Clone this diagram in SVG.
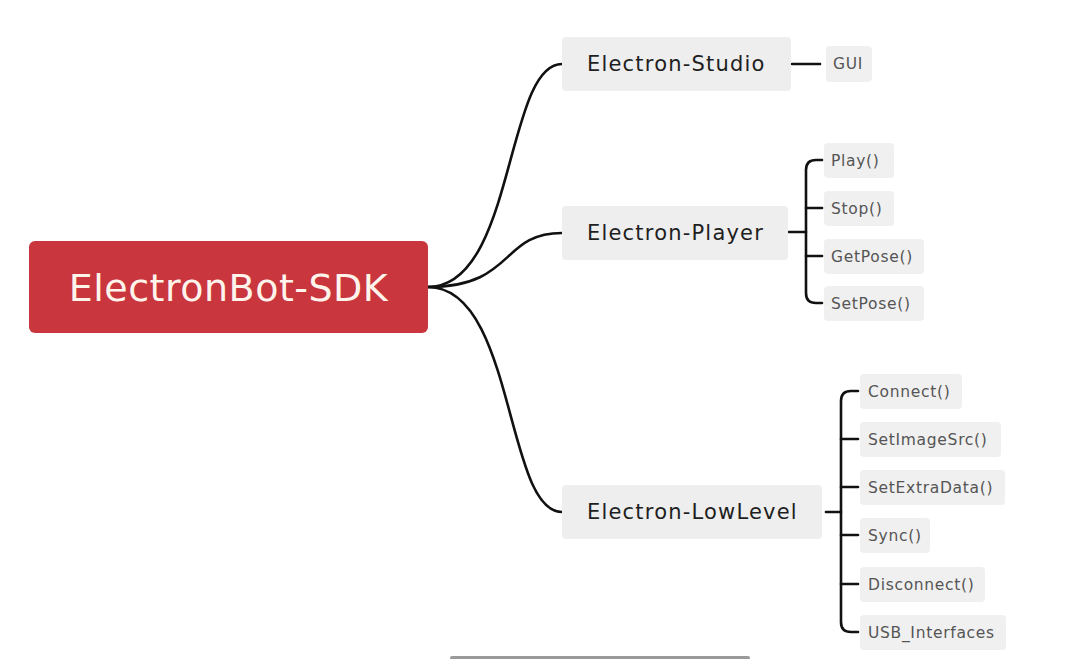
<svg xmlns="http://www.w3.org/2000/svg" width="1080" height="659" viewBox="0 0 1080 659">
<style>
.root{fill:#c9363e}
.main{fill:#eeeeee}
.leaf{fill:#f0f0f0}
.t1{font-family:"DejaVu Sans","Noto Sans",sans-serif;font-size:38px;letter-spacing:0.5px;fill:#fff4ec}
.t2{font-family:"DejaVu Sans","Noto Sans",sans-serif;font-size:21px;letter-spacing:1.2px;fill:#1e1e1e}
.t3{font-family:"DejaVu Sans","Noto Sans",sans-serif;font-size:15.5px;letter-spacing:0.7px;fill:#555}
.c{fill:none;stroke:#111;stroke-width:2.6;stroke-linecap:round}
</style>
<rect width="1080" height="659" fill="#ffffff"/>
<g id="connectors">
<path class="c" d="M428,287 C515,287 505,64 562,64"/>
<path class="c" d="M428,287 C515,287 500,233 562,233"/>
<path class="c" d="M428,287 C515,287 505,512 562,512"/>
<path class="c" d="M792,64 H820"/>
<path class="c" d="M789,232 H806"/>
<path class="c" d="M822,160 H816 Q806,160 806,170 V293 Q806,303 816,303 H822"/>
<path class="c" d="M806,208 H822"/>
<path class="c" d="M806,256 H822"/>
<path class="c" d="M826,512 H841"/>
<path class="c" d="M858,391 H851 Q841,391 841,401 V622 Q841,632 851,632 H858"/>
<path class="c" d="M841,439 H858"/>
<path class="c" d="M841,487 H858"/>
<path class="c" d="M841,535 H858"/>
<path class="c" d="M841,584 H858"/>
</g>
<g id="root"><rect class="root" x="29" y="241" width="399" height="92" rx="6"/><text class="t1" x="228.5" y="301" text-anchor="middle">ElectronBot-SDK</text></g>
<g id="studio"><rect class="main" x="562" y="37" width="229" height="54" rx="4"/><text class="t2" x="587" y="71">Electron-Studio</text></g>
<g id="player"><rect class="main" x="562" y="206" width="226" height="54" rx="4"/><text class="t2" x="587" y="240">Electron-Player</text></g>
<g id="lowlevel"><rect class="main" x="562" y="485" width="260" height="54" rx="4"/><text class="t2" x="587" y="519">Electron-LowLevel</text></g>
<g id="gui"><rect class="leaf" x="826" y="46" width="46" height="36" rx="4"/><text class="t3" x="833" y="69">GUI</text></g>
<g id="play"><rect class="leaf" x="824" y="143" width="70" height="35" rx="4"/><text class="t3" x="831" y="166">Play()</text></g>
<g id="stop"><rect class="leaf" x="824" y="191" width="70" height="35" rx="4"/><text class="t3" x="831" y="214">Stop()</text></g>
<g id="getpose"><rect class="leaf" x="824" y="239" width="100" height="35" rx="4"/><text class="t3" x="831" y="262">GetPose()</text></g>
<g id="setpose"><rect class="leaf" x="824" y="286" width="100" height="35" rx="4"/><text class="t3" x="831" y="309">SetPose()</text></g>
<g id="connect"><rect class="leaf" x="860" y="374" width="102" height="35" rx="4"/><text class="t3" x="868" y="397">Connect()</text></g>
<g id="setimagesrc"><rect class="leaf" x="860" y="422" width="141" height="35" rx="4"/><text class="t3" x="868" y="445">SetImageSrc()</text></g>
<g id="setextradata"><rect class="leaf" x="860" y="470" width="145" height="35" rx="4"/><text class="t3" x="868" y="493">SetExtraData()</text></g>
<g id="sync"><rect class="leaf" x="860" y="518" width="70" height="35" rx="4"/><text class="t3" x="868" y="541">Sync()</text></g>
<g id="disconnect"><rect class="leaf" x="860" y="567" width="125" height="35" rx="4"/><text class="t3" x="868" y="590">Disconnect()</text></g>
<g id="usb"><rect class="leaf" x="860" y="615" width="146" height="35" rx="4"/><text class="t3" x="868" y="638">USB_Interfaces</text></g>
<rect x="450" y="656" width="300" height="4" rx="2" fill="#9a9a9a"/>
</svg>
